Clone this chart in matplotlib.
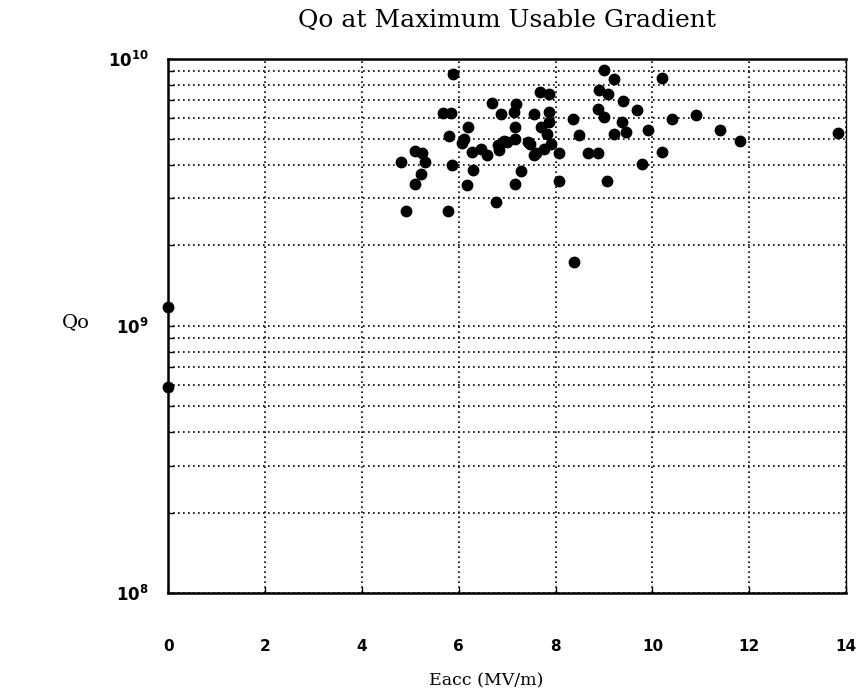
import matplotlib

matplotlib.use('Agg')
import matplotlib.pyplot as plt
from matplotlib import ticker
import numpy as np

# Eacc (MV/m) and Qo (units of 1e9)
eacc = [5.88, 6.69, 6.88, 5.68, 5.83, 5.79, 6.19, 6.10, 6.07, 6.28, 6.45, 6.59,
        6.80, 6.93, 6.83, 4.81, 5.10, 5.24, 5.31, 5.21, 5.09, 5.86, 6.29, 6.17,
        6.76, 4.90, 5.78,
        9.00, 9.20, 8.90, 9.08, 9.40, 7.68, 7.86, 7.19, 7.14, 7.55, 7.86, 7.69,
        7.86, 7.17, 7.83, 8.35, 8.48, 8.87, 9.00, 9.21, 9.38, 9.45, 7.00, 7.17,
        7.48, 7.59, 7.76, 7.90, 8.07, 8.66, 8.87, 7.28, 7.17, 8.07, 9.07, 8.38,
        7.42, 7.55,
        10.19, 9.68, 9.90, 10.40, 10.90, 11.40, 11.80, 13.83, 10.19, 9.78,
        0.0, 0.0]
qo_e9 = [8.73, 6.82, 6.19, 6.28, 6.28, 5.13, 5.55, 5.02, 4.85, 4.47, 4.60, 4.37,
         4.74, 4.94, 4.54, 4.10, 4.50, 4.42, 4.10, 3.71, 3.41, 3.99, 3.82, 3.38,
         2.91, 2.70, 2.69,
         9.04, 8.42, 7.66, 7.40, 6.92, 7.50, 7.40, 6.79, 6.31, 6.23, 6.31, 5.55,
         5.80, 5.55, 5.24, 5.92, 5.20, 6.50, 6.05, 5.24, 5.80, 5.32, 4.88, 5.02,
         4.81, 4.42, 4.60, 4.81, 4.42, 4.42, 4.42, 3.79, 3.41, 3.48, 3.48, 1.73,
         4.86, 4.35,
         8.46, 6.41, 5.40, 5.92, 6.17, 5.40, 4.91, 5.27, 4.47, 4.02,
         1.18, 0.59]

x_ticks = [0, 2, 4, 6, 8, 10, 12, 14]
y_ticks = [1e8, 1e9, 1e10]
y_tick_labels = [r'$\mathbf{10^{8}}$', r'$\mathbf{10^{9}}$', r'$\mathbf{10^{10}}$']

plt.rcParams['mathtext.fontset'] = 'dejavusans'

fig = plt.figure(figsize=(8.59, 6.98), dpi=100)
ax = fig.add_axes([0.196, 0.150, 0.789, 0.766])

q = np.array(qo_e9) * 1e9
ax.plot(eacc, q, 'o', color='black', markersize=7.5, clip_on=False, zorder=3)

ax.set_yscale('log')
ax.set_xlim(0, 14)
ax.set_ylim(1e8, 1e10)

ax.set_xticks(x_ticks)
ax.set_xticklabels([str(t) for t in x_ticks], fontweight='bold', fontsize=11)
ax.yaxis.set_major_locator(ticker.FixedLocator(y_ticks))
ax.yaxis.set_major_formatter(ticker.FixedFormatter(y_tick_labels))
ax.yaxis.set_minor_locator(ticker.LogLocator(base=10, subs=np.arange(2, 10)))
ax.yaxis.set_minor_formatter(ticker.NullFormatter())

ax.tick_params(axis='x', direction='in', length=4, width=1, pad=33, labelsize=11)
ax.tick_params(axis='y', which='major', direction='in', length=4, width=1, pad=14, labelsize=12)
ax.tick_params(axis='y', which='minor', direction='in', length=4, width=1)

ax.grid(True, which='major', axis='both', color='black', linestyle=(0, (1, 2)), linewidth=1.2)
ax.grid(True, which='minor', axis='y', color='black', linestyle=(0, (1, 2)), linewidth=1.2)

for side in ['left', 'bottom', 'top']:
    ax.spines[side].set_linewidth(1.8)
ax.spines['right'].set_linewidth(1.0)

# axis labels and title placed as free text to match the reference layout
ax.text(0.469, -0.163, 'Eacc (MV/m)', transform=ax.transAxes,
        family='DejaVu Serif', fontsize=12.5, ha='center', va='center')
ax.text(-0.136, 0.507, 'Qo', transform=ax.transAxes,
        family='DejaVu Serif', fontsize=14, ha='center', va='center')
ax.text(0.5, 1.071, 'Qo at Maximum Usable Gradient', transform=ax.transAxes,
        family='DejaVu Serif', fontsize=18, ha='center', va='center')

fig.savefig('out.png', dpi=100)
